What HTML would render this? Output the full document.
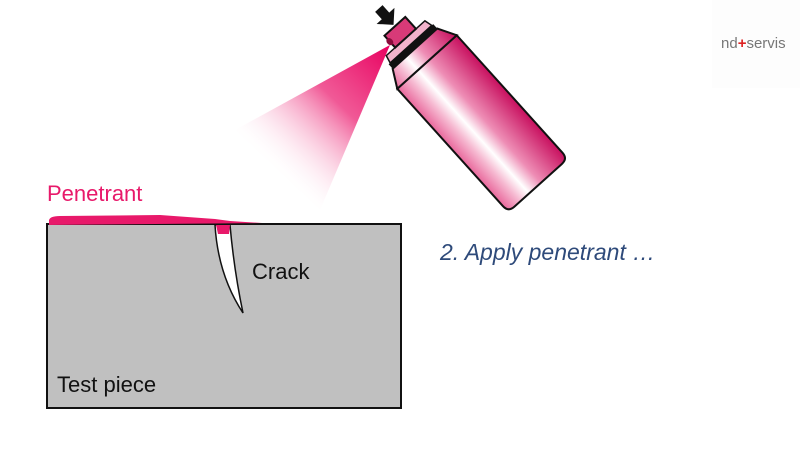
<!DOCTYPE html>
<html><head><meta charset="utf-8"><style>
html,body{margin:0;padding:0;background:#fff;width:800px;height:450px;overflow:hidden}
text{font-family:"Liberation Sans",sans-serif}
</style></head><body>
<svg width="800" height="450" viewBox="0 0 800 450" xmlns="http://www.w3.org/2000/svg">
<defs>
<linearGradient id="cone" x1="390" y1="45" x2="270" y2="170" gradientUnits="userSpaceOnUse">
<stop offset="0" stop-color="#e8005f"/><stop offset="0.45" stop-color="#ee3c84" stop-opacity="0.85"/><stop offset="1" stop-color="#ffffff" stop-opacity="0"/>
</linearGradient>
<linearGradient id="body" x1="-40" y1="0" x2="40" y2="0" gradientUnits="userSpaceOnUse">
<stop offset="0" stop-color="#e9689c"/><stop offset="0.2" stop-color="#f6b9d1"/><stop offset="0.35" stop-color="#ffffff"/><stop offset="0.55" stop-color="#ee8db5"/><stop offset="1" stop-color="#c8105f"/>
</linearGradient>
</defs>
<rect x="712" y="0" width="88" height="88" fill="#fdfdfd"/>
<text x="721" y="48" font-size="15" fill="#777">nd<tspan fill="#d22" font-weight="bold">+</tspan>servis</text>
<polygon points="390,45 235,130 320,210" fill="url(#cone)"/>
<g transform="translate(427,62) rotate(-42)">
<path d="M-40,0 L40,0 L40,158 Q40,166 32,166 L-32,166 Q-40,166 -40,158 Z" fill="url(#body)" stroke="#111" stroke-width="2"/>
<path d="M-40,0 L-30,-18 L30,-18 L40,0 Z" fill="url(#body)" stroke="#111" stroke-width="2"/>
<rect x="-30" y="-24" width="60" height="6" fill="#111"/>
<path d="M-28,-24 L-26,-32 L26,-32 L28,-24 Z" fill="#f3b3cc" stroke="#111" stroke-width="1.5"/>
<path d="M-14,-32 L-14,-48 L14,-48 L14,-32 Z" fill="#d83a78" stroke="#111" stroke-width="2"/>
<ellipse cx="-14" cy="-40" rx="3" ry="4" fill="#8a0a3a"/>
<path d="M-5,-62 L-5,-72 L5,-72 L5,-62 L12,-62 L0,-50 L-12,-62 Z" fill="#111"/>
</g>
<rect x="47" y="224" width="354" height="184" fill="#c0c0c0" stroke="#111" stroke-width="2"/>
<path d="M49,222 Q48,216 60,216 L160,215 L215,219 L230,221 L262,223 L49,225 Z" fill="#e8196a"/>
<path d="M215,225 Q218,275 243,313 Q234,270 230,225 Z" fill="#fff" stroke="#111" stroke-width="1.5"/>
<path d="M216,225 L230,225 L229,234 L218,234 Z" fill="#e8196a"/>
<text x="47" y="201" font-size="22" fill="#e8196a">Penetrant</text>
<text x="252" y="279" font-size="22" fill="#111">Crack</text>
<text x="57" y="392" font-size="22" fill="#111">Test piece</text>
<text x="440" y="260" font-size="23" font-style="italic" fill="#2e4a7a">2.  Apply penetrant …</text>
</svg>
</body></html>
